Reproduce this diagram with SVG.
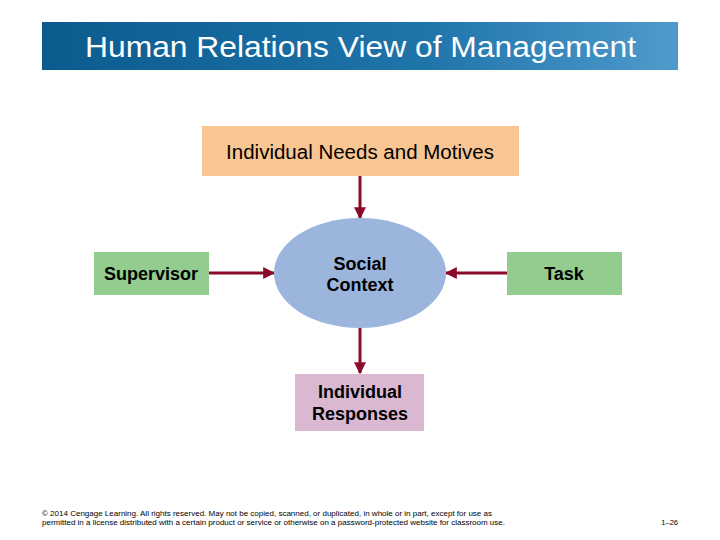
<svg xmlns="http://www.w3.org/2000/svg" width="720" height="540" viewBox="0 0 720 540">
<defs>
<linearGradient id="bg" x1="0" y1="0" x2="1" y2="0">
<stop offset="0" stop-color="#0b5b8e"/>
<stop offset="0.6" stop-color="#1f74aa"/>
<stop offset="1" stop-color="#4f9bcd"/>
</linearGradient>
<marker id="ah" viewBox="0 0 10 10" refX="9" refY="5" markerWidth="4" markerHeight="4" orient="auto" markerUnits="strokeWidth">
<path d="M0,0 L10,5 L0,10 Z" fill="#8b0a2a"/>
</marker>
<style>
.lbl{font-family:"Liberation Sans",Arial,sans-serif;fill:#000;text-anchor:middle}
.b{font-weight:bold;font-size:18px}
.conn{stroke:#8b0a2a;stroke-width:3;fill:none;marker-end:url(#ah)}
.foot{font-family:"Liberation Sans",Arial,sans-serif;font-size:7.5px;fill:#000}
</style>
</defs>
<rect width="720" height="540" fill="#fff"/>
<g id="title">
<rect x="42" y="22" width="636" height="48" fill="url(#bg)"/>
<text x="85" y="57" font-family="Liberation Sans,Arial,sans-serif" font-size="30" fill="#fff" textLength="551" lengthAdjust="spacingAndGlyphs">Human Relations View of Management</text>
</g>
<g id="connectors">
<line class="conn" x1="360" y1="176" x2="360" y2="218"/>
<line class="conn" x1="209" y1="273" x2="274" y2="273"/>
<line class="conn" x1="507" y1="273" x2="446" y2="273"/>
<line class="conn" x1="360" y1="328" x2="360" y2="373"/>
</g>
<g id="needs">
<rect x="202" y="126" width="317" height="50" fill="#f9c592"/>
<text class="lbl" x="360" y="159" font-size="20.5">Individual Needs and Motives</text>
</g>
<g id="social">
<ellipse cx="360" cy="273" rx="86" ry="55" fill="#9bb5dc"/>
<text class="lbl b" x="360" y="270">Social</text>
<text class="lbl b" x="360" y="291">Context</text>
</g>
<g id="supervisor">
<rect x="94" y="252" width="115" height="43" fill="#92cc8e"/>
<text class="lbl b" x="151" y="280">Supervisor</text>
</g>
<g id="task">
<rect x="507" y="252" width="115" height="43" fill="#92cc8e"/>
<text class="lbl b" x="564" y="280">Task</text>
</g>
<g id="responses">
<rect x="295" y="374" width="129" height="57" fill="#dbb8d2"/>
<text class="lbl b" x="360" y="398">Individual</text>
<text class="lbl b" x="360" y="420">Responses</text>
</g>
<g id="footer">
<text class="foot" x="42" y="516" textLength="450" lengthAdjust="spacingAndGlyphs">© 2014 Cengage Learning. All rights reserved. May not be copied, scanned, or duplicated, in whole or in part, except for use as</text>
<text class="foot" x="42" y="525" textLength="463" lengthAdjust="spacingAndGlyphs">permitted in a license distributed with a certain product or service or otherwise on a password-protected website for classroom use.</text>
<text class="foot" x="678" y="525" text-anchor="end">1–26</text>
</g>
</svg>
